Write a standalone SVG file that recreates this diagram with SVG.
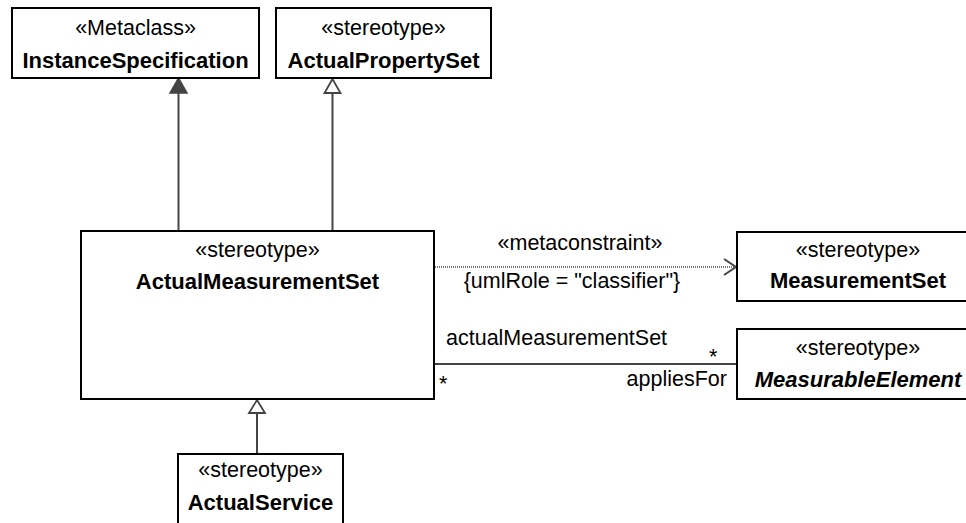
<svg xmlns="http://www.w3.org/2000/svg" width="966" height="523" viewBox="0 0 966 523">
<style>
  .box { fill: #fff; stroke: #000; stroke-width: 2; }
  text { font-family: "Liberation Sans", Arial, sans-serif; font-size: 21.5px; fill: #000; }
  .c { text-anchor: middle; }
  .b { font-weight: bold; font-size: 22px; }
  .i { font-style: italic; }
  .ln { stroke: #444; stroke-width: 2; fill: none; }
  .dot { stroke: #777; stroke-width: 2; stroke-dasharray: 1 1; fill: none; }
</style>
<rect width="966" height="523" fill="#fff"/>
<g id="connectors">
  <line class="ln" x1="178.5" y1="231" x2="178.5" y2="93"/>
  <polygon points="178.5,78 170,93 187,93" fill="#444" stroke="#444" stroke-width="1.5"/>
  <line class="ln" x1="332.5" y1="231" x2="332.5" y2="93"/>
  <polygon points="332.5,79 324.5,93 340.5,93" fill="#fff" stroke="#444" stroke-width="1.8"/>
  <line class="ln" x1="257" y1="454" x2="257" y2="413"/>
  <polygon points="257,400 249,413 265,413" fill="#fff" stroke="#444" stroke-width="1.8"/>
  <line class="dot" x1="435" y1="267" x2="736" y2="267"/>
  <polyline class="ln" points="724,259 736,267 724,275" stroke-width="1.5"/>
  <text class="c" x="580" y="250">«metaconstraint»</text>
  <text class="c" x="572" y="288" font-size="19">{umlRole = "classifier"}</text>
  <line class="ln" x1="435" y1="364" x2="737" y2="364"/>
  <text x="446" y="345">actualMeasurementSet</text>
  <text x="709" y="364">*</text>
  <text x="439" y="391">*</text>
  <text x="727" y="386" text-anchor="end">appliesFor</text>
</g>
<g id="InstanceSpecification">
  <rect class="box" x="12" y="8" width="247" height="70"/>
  <text class="c" x="135.5" y="35">«Metaclass»</text>
  <text class="c b" x="135.5" y="68">InstanceSpecification</text>
</g>
<g id="ActualPropertySet">
  <rect class="box" x="276" y="8" width="215" height="70"/>
  <text class="c" x="383.5" y="35">«stereotype»</text>
  <text class="c b" x="383.5" y="68">ActualPropertySet</text>
</g>
<g id="ActualMeasurementSet">
  <rect class="box" x="81" y="231" width="353" height="168"/>
  <text class="c" x="257.5" y="257">«stereotype»</text>
  <text class="c b" x="257.5" y="289">ActualMeasurementSet</text>
</g>
<g id="MeasurementSet">
  <rect class="box" x="737" y="232" width="242" height="69"/>
  <text class="c" x="858" y="257">«stereotype»</text>
  <text class="c b" x="858" y="288">MeasurementSet</text>
</g>
<g id="MeasurableElement">
  <rect class="box" x="737" y="329" width="242" height="70"/>
  <text class="c" x="858" y="355">«stereotype»</text>
  <text class="c b i" x="858" y="387">MeasurableElement</text>
</g>
<g id="ActualService">
  <rect class="box" x="178" y="454" width="165" height="80"/>
  <text class="c" x="260.5" y="477">«stereotype»</text>
  <text class="c b" x="260.5" y="510">ActualService</text>
</g>
</svg>
